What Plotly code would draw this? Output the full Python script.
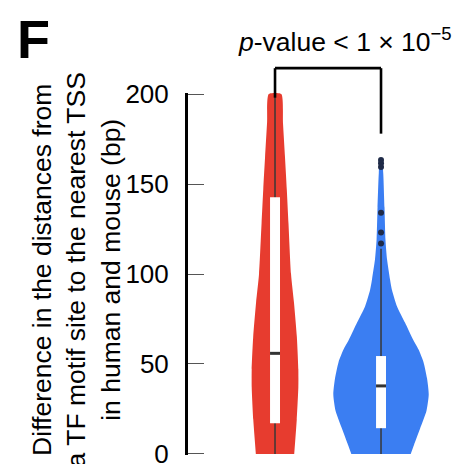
import plotly.graph_objects as go

# Groups and their colours (x positions 0 and 1 on a hidden numeric axis)
groups = ["red", "blue"]
group_x = [0, 1]
fill_colors = ["#E73C2F", "#3B7EF2"]

# Violin outlines: value (bp) and half-width of the density (x-axis units)
red_vals = [0, 19, 37, 47, 65, 84, 100, 128, 147, 165, 184, 200]
red_half = [0.181, 0.205, 0.220, 0.220, 0.206, 0.179, 0.151, 0.127, 0.111, 0.094, 0.075, 0.059]

blue_vals = [0, 5, 14, 24, 33, 42, 51, 58, 63, 73, 82, 91, 97, 108, 119, 137, 156, 164]
blue_half = [0.280, 0.311, 0.368, 0.429, 0.450, 0.434, 0.401, 0.354, 0.307, 0.226,
             0.151, 0.104, 0.085, 0.057, 0.042, 0.033, 0.021, 0.008]

# Box-plot summaries
q1 = [17, 14.3]
median = [55.9, 37.8]
q3 = [142.6, 54.4]
whisker_lo = [0, 0]
whisker_hi = [200, 114]
blue_outliers = [117, 123, 134, 159.5, 161.5, 163.3]

# Significance bracket (bp) and its label
bracket_top = 214.4
bracket_ends = [198, 178]
pvalue_text = "<i>p</i>-value &lt; 1 × 10<sup>−5</sup>"

ytick_vals = [0, 50, 100, 150, 200]
y_title = "Difference in the distances from<br>a TF motif site to the nearest TSS<br>in human and mouse (bp)"

FONT = "Liberation Sans, Arial, Helvetica, sans-serif"
BOX_HALF = 0.047
Y_LO, Y_HI = -0.6, 200.6


def to_paper(v):
    """Convert a y value (bp) to paper coordinates of the plot area."""
    return (v - Y_LO) / (Y_HI - Y_LO)


fig = go.Figure()

profiles = [(red_vals, red_half), (blue_vals, blue_half)]
for cx, (vals, half), col in zip(group_x, profiles, fill_colors):
    xs = [cx + h for h in half] + [cx - h for h in reversed(half)]
    ys = list(vals) + list(reversed(vals))
    fig.add_trace(go.Scatter(
        x=xs, y=ys, mode="lines", fill="toself", fillcolor=col,
        line=dict(width=0, color=col, shape="spline", smoothing=0.6),
        hoverinfo="skip", showlegend=False,
    ))

# Whiskers
for cx, lo, hi in zip(group_x, whisker_lo, whisker_hi):
    fig.add_trace(go.Scatter(
        x=[cx, cx], y=[lo, hi], mode="lines",
        line=dict(color="#383838", width=1.5),
        hoverinfo="skip", showlegend=False,
    ))

# White boxes (Q1..Q3)
for cx, a, b in zip(group_x, q1, q3):
    fig.add_trace(go.Scatter(
        x=[cx - BOX_HALF, cx + BOX_HALF, cx + BOX_HALF, cx - BOX_HALF, cx - BOX_HALF],
        y=[a, a, b, b, a], mode="lines", fill="toself", fillcolor="white",
        line=dict(width=0, color="white"),
        hoverinfo="skip", showlegend=False,
    ))

# Medians
for cx, m in zip(group_x, median):
    fig.add_trace(go.Scatter(
        x=[cx - BOX_HALF, cx + BOX_HALF], y=[m, m], mode="lines",
        line=dict(color="#333333", width=3),
        hoverinfo="skip", showlegend=False,
    ))

# Outliers of the blue group
fig.add_trace(go.Scatter(
    x=[group_x[1]] * len(blue_outliers), y=blue_outliers, mode="markers",
    marker=dict(color="#1F2B48", size=6, line=dict(width=0)),
    hoverinfo="skip", showlegend=False,
))

# Significance bracket drawn above the plot area
line_style = dict(color="black", width=2.6)
fig.add_shape(type="line", xref="x", yref="paper",
              x0=group_x[0], x1=group_x[1],
              y0=to_paper(bracket_top), y1=to_paper(bracket_top), line=line_style)
for cx, end in zip(group_x, bracket_ends):
    fig.add_shape(type="line", xref="x", yref="paper",
                  x0=cx, x1=cx, y0=to_paper(end), y1=to_paper(bracket_top), line=line_style)

fig.add_annotation(
    text=pvalue_text, xref="paper", yref="paper", x=0.185, y=1.147,
    xanchor="left", yanchor="middle", showarrow=False,
    font=dict(family=FONT, size=26.5, color="black"),
)

# Y-axis title
fig.add_annotation(
    text=y_title, xref="paper", yref="paper", x=-0.434, y=0.51,
    xanchor="center", yanchor="middle", textangle=-90, showarrow=False,
    align="center", font=dict(family=FONT, size=26.5, color="black"),
)

# Panel letter
fig.add_annotation(
    text="<b>F</b>", xref="paper", yref="paper", x=-0.67, y=1.149,
    xanchor="left", yanchor="middle", showarrow=False,
    font=dict(family=FONT, size=54, color="black"),
)

fig.update_layout(
    width=456, height=464,
    margin=dict(l=188, r=10, t=93, b=9, autoexpand=False),
    paper_bgcolor="white", plot_bgcolor="white",
    showlegend=False,
    xaxis=dict(visible=False, range=[-0.821, 1.613], automargin=False),
    yaxis=dict(
        range=[Y_LO, Y_HI], showgrid=False, zeroline=False, automargin=False,
        showline=True, linewidth=3, linecolor="black",
        ticks="inside", ticklen=16, tickwidth=1.2, tickcolor="#555555",
        tickvals=ytick_vals, ticklabelstandoff=11, ticklabeloverflow="allow",
        tickfont=dict(family=FONT, size=26, color="black"),
    ),
)

fig.write_html("out.html")
